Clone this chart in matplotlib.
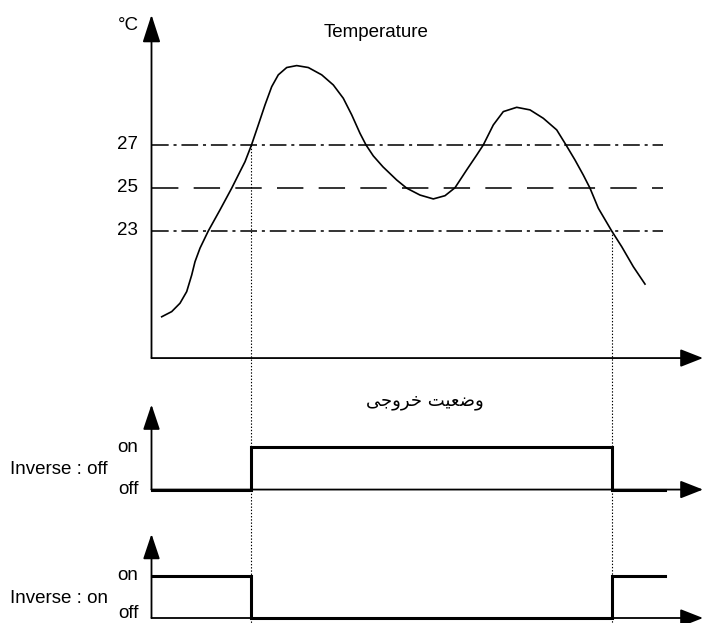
import matplotlib
matplotlib.use("Agg")
import matplotlib.pyplot as plt

# time (arbitrary units, 0 = vertical axis) and temperature readings in °C
TIME = [1.02, 2.02, 2.85, 3.52, 4.02, 4.35, 4.85, 5.68, 6.85, 8.02,
        8.85, 9.35, 10.0, 10.68, 11.35, 12.02, 12.68, 13.52, 14.52, 15.68,
        17.02, 18.18, 19.18, 20.02, 20.85, 21.45, 22.18, 23.15, 24.52, 25.52,
        26.85, 28.18, 29.35, 30.35, 31.52, 32.52, 33.18, 34.18, 35.18, 36.52,
        37.85, 39.18, 40.52, 41.45, 42.35, 43.18, 43.85, 44.68, 46.02, 47.02,
        48.18, 49.35]
TEMP = [19.01, 19.25, 19.64, 20.18, 20.95, 21.57, 22.2, 23.0, 23.98, 24.99,
        25.76, 26.22, 27.0, 27.93, 28.86, 29.71, 30.26, 30.6, 30.69, 30.6,
        30.26, 29.79, 29.17, 28.4, 27.54, 27.0, 26.49, 25.98, 25.37, 24.99,
        24.67, 24.49, 24.64, 25.01, 25.84, 26.53, 27.0, 27.93, 28.55, 28.75,
        28.63, 28.24, 27.7, 27.0, 26.3, 25.6, 24.99, 24.06, 23.0, 22.27,
        21.34, 20.53]

THRESHOLDS = [27, 25, 23]
THRESHOLD_STYLES = ["dashdot", "dashed", "dashdot"]

T_ON = 9.97     # temperature passes 27 going up
T_OFF = 46.02   # temperature passes 23 going down
T_END = 51.35

STEP_TIME = [0, T_ON, T_OFF, T_END]
OUT_INVERSE_OFF = [0, 1, 0, 0]
OUT_INVERSE_ON = [1, 0, 1, 1]

TITLE_TOP = "Temperature"
TITLE_OUT = "وضعیت خروجی"
UNIT = "°C"
ROW_LABELS = ["Inverse : off", "Inverse : on"]
STATE_LABELS = ["off", "on"]

W, H = 706, 623
XLIM = (-15.15, 55.45)
AXIS_TIP = 55.15
LINE_END = 51.15

# Arabic presentation forms (isolated, final, initial, medial)
FORMS = {
    "و": ("\uFEED", "\uFEEE", None, None),
    "ر": ("\uFEAD", "\uFEAE", None, None),
    "ض": ("\uFEBD", "\uFEBE", "\uFEBF", "\uFEC0"),
    "ع": ("\uFEC9", "\uFECA", "\uFECB", "\uFECC"),
    "ی": ("\uFEEF", "\uFEF0", "\uFEF3", "\uFEF4"),
    "ت": ("\uFE95", "\uFE96", "\uFE97", "\uFE98"),
    "خ": ("\uFEA5", "\uFEA6", "\uFEA7", "\uFEA8"),
    "ج": ("\uFE9D", "\uFE9E", "\uFE9F", "\uFEA0"),
}


def shape_fa(text):
    """minimal shaping + reversal so matplotlib draws it right-to-left"""
    out = []
    for i, ch in enumerate(text):
        if ch not in FORMS:
            out.append(ch)
            continue
        prev = text[i - 1] if i > 0 else ""
        nxt = text[i + 1] if i + 1 < len(text) else ""
        join_prev = prev in FORMS and FORMS[prev][2] is not None
        join_next = nxt in FORMS and FORMS[ch][2] is not None
        iso, fin, ini, med = FORMS[ch]
        if join_prev and join_next:
            out.append(med)
        elif join_next:
            out.append(ini)
        elif join_prev:
            out.append(fin)
        else:
            out.append(iso)
    return "".join(reversed(out))


plt.rcParams["font.family"] = ["Liberation Sans", "DejaVu Sans"]
plt.rcParams["lines.scale_dashes"] = False

fig = plt.figure(figsize=(W / 100, H / 100), dpi=100)


def overlay(ylim):
    ax = fig.add_axes([0, 0, 1, 1])
    ax.set_xlim(*XLIM)
    ax.set_ylim(*ylim)
    ax.axis("off")
    ax.patch.set_alpha(0)
    return ax


def arrow(ax, start, tip, hl, hw):
    ax.annotate("", xy=tip, xytext=start,
                arrowprops=dict(arrowstyle=f"-|>,head_length={hl},head_width={hw}",
                                mutation_scale=10, lw=1.3, color="black",
                                shrinkA=0, shrinkB=0))


# --- temperature panel
ax_t = overlay((4.77, 33.74))
base_t = 17.09
arrow(ax_t, (0, base_t), (0, 33.05), 1.7, 0.55)
arrow(ax_t, (0, base_t), (AXIS_TIP, base_t), 1.4, 0.55)

dash_map = {"dashdot": (0, (12, 3.5, 2.2, 3.5)), "dashed": (0, (19, 11))}
for level, style in zip(THRESHOLDS, THRESHOLD_STYLES):
    ax_t.plot([0, LINE_END], [level, level], color="#111111", lw=1.2,
              ls=dash_map[style])
    ax_t.text(-1.4, level, str(level), ha="right", va="center", fontsize=13.5)

ax_t.plot(TIME, TEMP, color="black", lw=1.2)

ax_t.plot([T_ON, T_ON], [THRESHOLDS[0], 4.77], color="black", lw=0.8,
          ls=(0, (1, 1.3)), clip_on=False)
ax_t.plot([T_OFF, T_OFF], [THRESHOLDS[2], 4.77], color="black", lw=0.8,
          ls=(0, (1, 1.3)), clip_on=False)

ax_t.text(-1.3, 32.35, UNIT, ha="right", va="baseline", fontsize=13.5)
ax_t.text(22.45, 32.02, TITLE_TOP, ha="center", va="baseline", fontsize=13.5)

# --- output panels (state label positions, in state units)
panels = [
    (overlay((-3.14, 11.52)), OUT_INVERSE_OFF, ROW_LABELS[0],
     [(-0.106, "baseline"), (0.889, "baseline")], 0.358),
    (overlay((-0.119, 14.71)), OUT_INVERSE_ON, ROW_LABELS[1],
     [(-0.107, "bottom"), (0.905, "baseline")], 0.364),
]
for ax, states, label, state_pos, label_y in panels:
    arrow(ax, (0, 0), (0, 2.0), 1.55, 0.52)
    arrow(ax, (0, 0), (AXIS_TIP, 0), 1.4, 0.55)
    ax.step(STEP_TIME, states, where="post", color="black", lw=2.2,
            solid_joinstyle="miter")
    for (y, va), name in zip(state_pos, STATE_LABELS):
        ax.text(-1.3, y, name, ha="right", va=va, fontsize=13.5)
    ax.text(-14.15, label_y, label, ha="left", va="baseline", fontsize=13.5)

panels[0][0].text(27.3, 1.99, shape_fa(TITLE_OUT), ha="center", va="baseline",
                  fontsize=13, family=["DejaVu Sans"])

fig.savefig("out.png", dpi=100)
